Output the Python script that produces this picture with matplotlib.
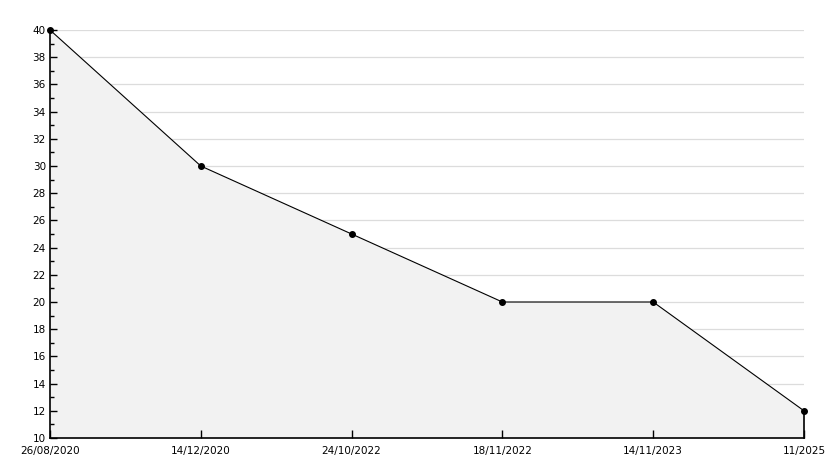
import numpy as np
import matplotlib
matplotlib.use('Agg')
import matplotlib.pyplot as plt
from matplotlib.ticker import MultipleLocator

dates = ['26/08/2020', '14/12/2020', '24/10/2022', '18/11/2022', '14/11/2023', '11/2025']
values = [40, 30, 25, 20, 20, 12]

fig = plt.figure(figsize=(8.34, 4.68), dpi=100)
ax = fig.add_axes([50 / 834, 30 / 468, 754 / 834, 408 / 468])

x = np.arange(len(dates))
ax.fill_between(x, values, 10, color='#f2f2f2', linewidth=0, zorder=1)
ax.plot(x, values, color='black', linewidth=0.8, zorder=3)
ax.plot(x, values, linestyle='none', marker='o', markersize=4,
        color='black', zorder=4, clip_on=False)
# right edge of the filled area
ax.plot([x[-1], x[-1]], [10, values[-1]], color='black', linewidth=1.2, zorder=3,
        clip_on=False)

ax.set_xlim(0, len(dates) - 1)
ax.set_ylim(10, 40)
ax.yaxis.set_major_locator(MultipleLocator(2))
ax.yaxis.set_minor_locator(MultipleLocator(1))
ax.set_xticks(x)
ax.set_xticklabels(dates)

for yv in range(12, 41, 2):
    ax.axhline(yv, color='#dcdcdc', linewidth=0.9, zorder=0)

for side in ['top', 'right']:
    ax.spines[side].set_visible(False)
ax.spines['left'].set_linewidth(1.2)
ax.spines['bottom'].set_linewidth(1.2)

ax.tick_params(axis='y', which='major', direction='in', length=5, width=1,
               labelsize=7.5, pad=3)
ax.tick_params(axis='y', which='minor', direction='in', length=3, width=1)
ax.tick_params(axis='x', which='major', direction='in', length=6, width=1,
               labelsize=7.5, pad=6)
ax.set_facecolor('white')

fig.savefig('out.png', dpi=100)
